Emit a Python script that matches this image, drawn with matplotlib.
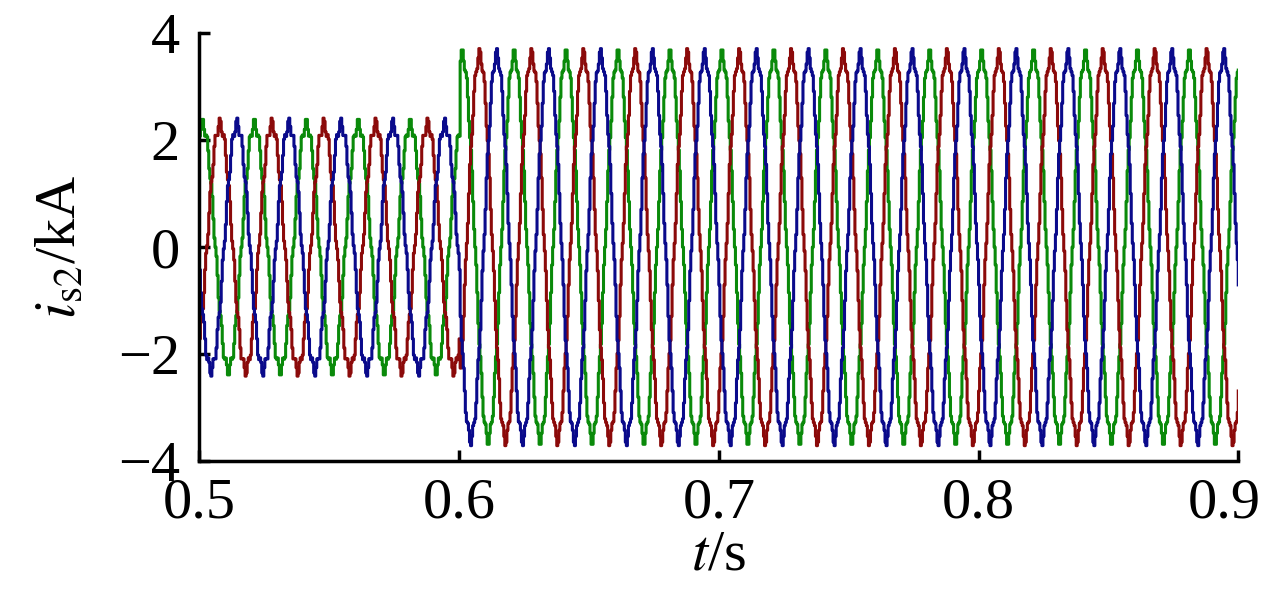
import numpy as np
import matplotlib
matplotlib.use("Agg")
import matplotlib.pyplot as plt
import matplotlib.transforms as mtransforms

plt.rcParams['font.family'] = ['Liberation Serif', 'DejaVu Serif']
plt.rcParams['mathtext.fontset'] = 'stix'

# signal parameters
freq_hz = 50.0
t_step = 0.6
amp_before = 2.3   # kA
amp_after = 3.6    # kA
ripple = 0.12      # kA, 11th-harmonic ripple
peak_time = [0.501, 0.5077, 0.5143]  # green, red, blue first peaks
colors = ['#0a8a0a', '#8b0a0a', '#0a0a8b']
sample_dt = 0.0004

t = np.arange(0.5, 0.9 + sample_dt, sample_dt)
amp = np.where(t < t_step, amp_before, amp_after)

fig = plt.figure(figsize=(12.7, 6.14), dpi=100)
ax = fig.add_axes([0.157, 0.249, 0.818, 0.697])
for tp, c in zip(peak_time, colors):
    ph = 2 * np.pi * freq_hz * (t - tp)
    y = amp * np.cos(ph) + ripple * np.cos(11 * ph)
    ax.plot(t, y, color=c, lw=2.2, drawstyle='steps-post')

ax.set_xlim(0.5, 0.9)
ax.set_ylim(-4, 4)
ax.set_xticks([0.5, 0.6, 0.7, 0.8, 0.9])
ax.set_xticklabels(['0.5', '0.6', '0.7', '0.8', '0.9'])
ax.set_yticks([-4, -2, 0, 2, 4])
ax.set_yticklabels(['\u22124', '\u22122', '0', '2', '4'])
for s in ['top', 'right']:
    ax.spines[s].set_visible(False)
for s in ['left', 'bottom']:
    ax.spines[s].set_linewidth(2.5)
ax.tick_params(direction='in', length=8, width=2.5, labelsize=42)
ax.tick_params(axis='x', pad=12)
ax.tick_params(axis='y', pad=14)
last = ax.get_xticklabels()[-1]
last.set_transform(last.get_transform() + mtransforms.ScaledTranslation(-0.14, 0, fig.dpi_scale_trans))
ax.set_xlabel(r'$\it{t}$/s', fontsize=42, labelpad=0)
ax.set_ylabel(r'$\it{i}_{\rm s2}$/kA', fontsize=42, labelpad=22)
fig.savefig('out.png', dpi=100)
